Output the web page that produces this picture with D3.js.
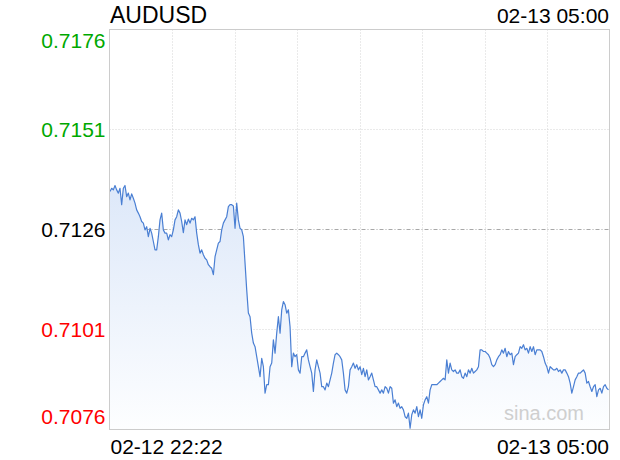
<!DOCTYPE html>
<html>
<head>
<meta charset="utf-8">
<script src="https://cdn.jsdelivr.net/npm/d3@7/dist/d3.min.js"></script>
<style>
  body { margin: 0; background: #fff; }
  text { font-family: "Liberation Sans", Arial, Helvetica, sans-serif; }
</style>
</head>
<body>
<div id="chart"></div>
<script>
var symbol = "AUDUSD";
var startLabel = "02-12 22:22";
var endLabel = "02-13 05:00";
var prevClose = 0.7126;
var yTicks = [0.7176, 0.7151, 0.7126, 0.7101, 0.7076];

// minute quotes (evenly spaced in time)
var prices = [
  0.71355, 0.71363, 0.71359, 0.71370, 0.71359, 0.71351, 0.71363, 0.71322, 0.71363, 0.71370,
  0.71342, 0.71351, 0.71334, 0.71349, 0.71338, 0.71326, 0.71309, 0.71301, 0.71292, 0.71280,
  0.71276, 0.71259, 0.71267, 0.71242, 0.71263, 0.71251, 0.71230, 0.71209, 0.71209, 0.71242,
  0.71284, 0.71301, 0.71259, 0.71251, 0.71251, 0.71234, 0.71247, 0.71242, 0.71259, 0.71284,
  0.71292, 0.71309, 0.71301, 0.71280, 0.71252, 0.71284, 0.71272, 0.71286, 0.71276, 0.71288,
  0.71284, 0.71292, 0.71251, 0.71222, 0.71201, 0.71209, 0.71197, 0.71188, 0.71184, 0.71172,
  0.71167, 0.71163, 0.71147, 0.71192, 0.71209, 0.71226, 0.71230, 0.71259, 0.71276, 0.71284,
  0.71292, 0.71317, 0.71322, 0.71322, 0.71319, 0.71263, 0.71326, 0.71284, 0.71263, 0.71259,
  0.71242, 0.71176, 0.71109, 0.71051, 0.71042, 0.71001, 0.70976, 0.70967, 0.70942, 0.70917,
  0.70892, 0.70938, 0.70917, 0.70851, 0.70872, 0.70872, 0.70917, 0.70926, 0.70984, 0.70951,
  0.71001, 0.71042, 0.71001, 0.71059, 0.71080, 0.71072, 0.71051, 0.71059, 0.71017, 0.70917,
  0.70951, 0.70942, 0.70947, 0.70909, 0.70901, 0.70942, 0.70942, 0.70951, 0.70959, 0.70934,
  0.70917, 0.70901, 0.70855, 0.70909, 0.70934, 0.70917, 0.70901, 0.70867, 0.70867, 0.70859,
  0.70876, 0.70867, 0.70884, 0.70901, 0.70926, 0.70947, 0.70951, 0.70947, 0.70942, 0.70934,
  0.70901, 0.70859, 0.70851, 0.70867, 0.70909, 0.70917, 0.70926, 0.70913, 0.70922, 0.70909,
  0.70917, 0.70897, 0.70913, 0.70892, 0.70909, 0.70884, 0.70892, 0.70901, 0.70884, 0.70867,
  0.70867, 0.70859, 0.70851, 0.70859, 0.70851, 0.70867, 0.70863, 0.70851, 0.70867, 0.70863,
  0.70826, 0.70834, 0.70817, 0.70826, 0.70813, 0.70817, 0.70809, 0.70792, 0.70788, 0.70801,
  0.70763, 0.70797, 0.70809, 0.70801, 0.70817, 0.70792, 0.70809, 0.70788, 0.70822, 0.70834,
  0.70842, 0.70826, 0.70859, 0.70872, 0.70872, 0.70872, 0.70872, 0.70876, 0.70880, 0.70884,
  0.70888, 0.70884, 0.70934, 0.70901, 0.70926, 0.70909, 0.70905, 0.70909, 0.70901, 0.70901,
  0.70909, 0.70892, 0.70888, 0.70901, 0.70892, 0.70909, 0.70901, 0.70913, 0.70901, 0.70905,
  0.70909, 0.70917, 0.70959, 0.70959, 0.70955, 0.70955, 0.70951, 0.70947, 0.70938, 0.70922,
  0.70917, 0.70922, 0.70934, 0.70942, 0.70947, 0.70959, 0.70951, 0.70963, 0.70942, 0.70955,
  0.70947, 0.70951, 0.70922, 0.70942, 0.70947, 0.70951, 0.70967, 0.70963, 0.70972, 0.70959,
  0.70963, 0.70951, 0.70967, 0.70955, 0.70967, 0.70947, 0.70959, 0.70959, 0.70959, 0.70955,
  0.70942, 0.70926, 0.70917, 0.70901, 0.70917, 0.70913, 0.70909, 0.70909, 0.70913, 0.70905,
  0.70909, 0.70901, 0.70909, 0.70909, 0.70901, 0.70892, 0.70876, 0.70851, 0.70867, 0.70884,
  0.70892, 0.70901, 0.70901, 0.70905, 0.70909, 0.70901, 0.70876, 0.70880, 0.70867, 0.70855,
  0.70867, 0.70872, 0.70842, 0.70859, 0.70863, 0.70851, 0.70867, 0.70872, 0.70863, 0.70859
];

(function() {
  var w = 620, h = 460;
  var pl = 109.5, pr = 609.5, pt = 29.5, pb = 429.5;

  var svg = d3.select("#chart").append("svg")
    .attr("width", w)
    .attr("height", h);

  var x = d3.scaleLinear().domain([0, prices.length - 1]).range([pl + 0.5, pr - 1]);
  var y = d3.scaleLinear().domain([yTicks[yTicks.length - 1], yTicks[0]]).range([pb, pt]);

  var grad = svg.append("defs").append("linearGradient")
    .attr("id", "fillGrad")
    .attr("gradientUnits", "userSpaceOnUse")
    .attr("x1", 0).attr("x2", 0)
    .attr("y1", y(d3.max(prices))).attr("y2", pb);
  grad.append("stop").attr("offset", 0).attr("stop-color", "#dde8f9");
  grad.append("stop").attr("offset", 1).attr("stop-color", "#fdfeff");

  // vertical grid, 8 columns
  var cols = d3.range(1, 8).map(function(i) { return pl + i * (pr - pl) / 8; });
  svg.selectAll(".vgrid")
    .data(cols)
    .enter().append("line")
    .attr("class", "vgrid")
    .attr("x1", function(d) { return Math.round(d) + 0.5; })
    .attr("x2", function(d) { return Math.round(d) + 0.5; })
    .attr("y1", pt).attr("y2", pb)
    .attr("stroke", "#d4d4d4")
    .attr("stroke-dasharray", "1,2");

  // horizontal grid
  svg.selectAll(".hgrid")
    .data(yTicks.slice(1, -1))
    .enter().append("line")
    .attr("class", "hgrid")
    .attr("x1", pl).attr("x2", pr)
    .attr("y1", function(d) { return y(d); })
    .attr("y2", function(d) { return y(d); })
    .attr("stroke", function(d) { return d === prevClose ? "#a8a8a8" : "#d4d4d4"; })
    .attr("stroke-dasharray", function(d) { return d === prevClose ? "4,2,1,2" : "1,2"; });

  var area = d3.area()
    .x(function(d, i) { return x(i); })
    .y0(pb)
    .y1(function(d) { return y(d); });

  var line = d3.line()
    .x(function(d, i) { return x(i); })
    .y(function(d) { return y(d); });

  svg.append("path")
    .datum(prices)
    .attr("d", area)
    .attr("fill", "url(#fillGrad)");

  svg.append("path")
    .datum(prices)
    .attr("d", line)
    .attr("fill", "none")
    .attr("stroke", "#4a7fd3")
    .attr("stroke-width", 1.2)
    .attr("stroke-linejoin", "round");

  // plot border
  svg.append("rect")
    .attr("x", pl).attr("y", pt)
    .attr("width", pr - pl).attr("height", pb - pt)
    .attr("fill", "none")
    .attr("stroke", "#cccccc");

  // y labels
  svg.selectAll(".ylab")
    .data(yTicks)
    .enter().append("text")
    .attr("class", "ylab")
    .attr("x", 105.5)
    .attr("y", function(d, i) {
      if (i === 0) return y(d) + 18;
      if (i === yTicks.length - 1) return y(d) - 5.5;
      return y(d) + 7;
    })
    .attr("text-anchor", "end")
    .attr("font-size", 21)
    .attr("fill", function(d) {
      if (d > prevClose) return "#00a800";
      if (d < prevClose) return "#ff0000";
      return "#000";
    })
    .text(function(d) { return d.toFixed(4); });

  // title and time labels
  svg.append("text")
    .attr("x", 110).attr("y", 23)
    .attr("font-size", 23)
    .attr("fill", "#000")
    .text(symbol);

  svg.append("text")
    .attr("x", 609).attr("y", 23)
    .attr("text-anchor", "end")
    .attr("font-size", 21)
    .attr("fill", "#000")
    .text(endLabel);

  svg.append("text")
    .attr("x", 110.5).attr("y", 454)
    .attr("font-size", 21)
    .attr("fill", "#000")
    .text(startLabel);

  svg.append("text")
    .attr("x", 609).attr("y", 454)
    .attr("text-anchor", "end")
    .attr("font-size", 21)
    .attr("fill", "#000")
    .text(endLabel);

  // watermark
  svg.append("text")
    .attr("x", 584).attr("y", 420)
    .attr("text-anchor", "end")
    .attr("font-size", 20)
    .attr("fill", "#cfcfcf")
    .text("sina.com");
})();
</script>
</body>
</html>
